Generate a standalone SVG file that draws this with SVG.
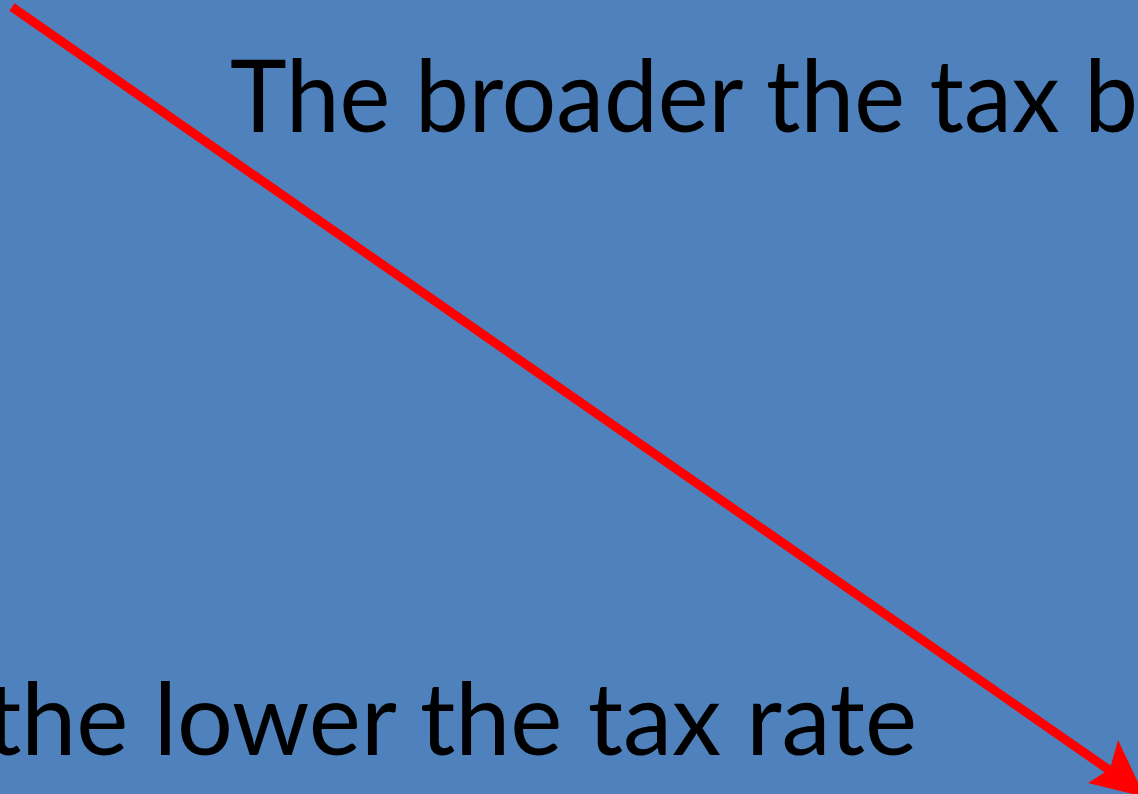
<svg xmlns="http://www.w3.org/2000/svg" width="1138" height="794" viewBox="0 0 1138 794">
<defs>
<style>
.t{font-family:Lato,"Open Sans","Liberation Sans",sans-serif;font-size:100px;fill:#000}
</style>
</defs>
<rect width="1138" height="794" fill="#4F81BD"/>
<g id="top-text"><text class="t" x="230" y="132" textLength="908" lengthAdjust="spacingAndGlyphs">The broader the tax b</text></g>
<g id="bottom-text"><text class="t" x="-14" y="755" textLength="931" lengthAdjust="spacingAndGlyphs">the lower the tax rate</text></g>
<g id="connectors">
<line x1="12" y1="7" x2="1112" y2="772" stroke="#FF0000" stroke-width="9"/>
<polygon points="1118,740 1145,797 1088,783 1110,769" fill="#FF0000"/>
</g>
</svg>
